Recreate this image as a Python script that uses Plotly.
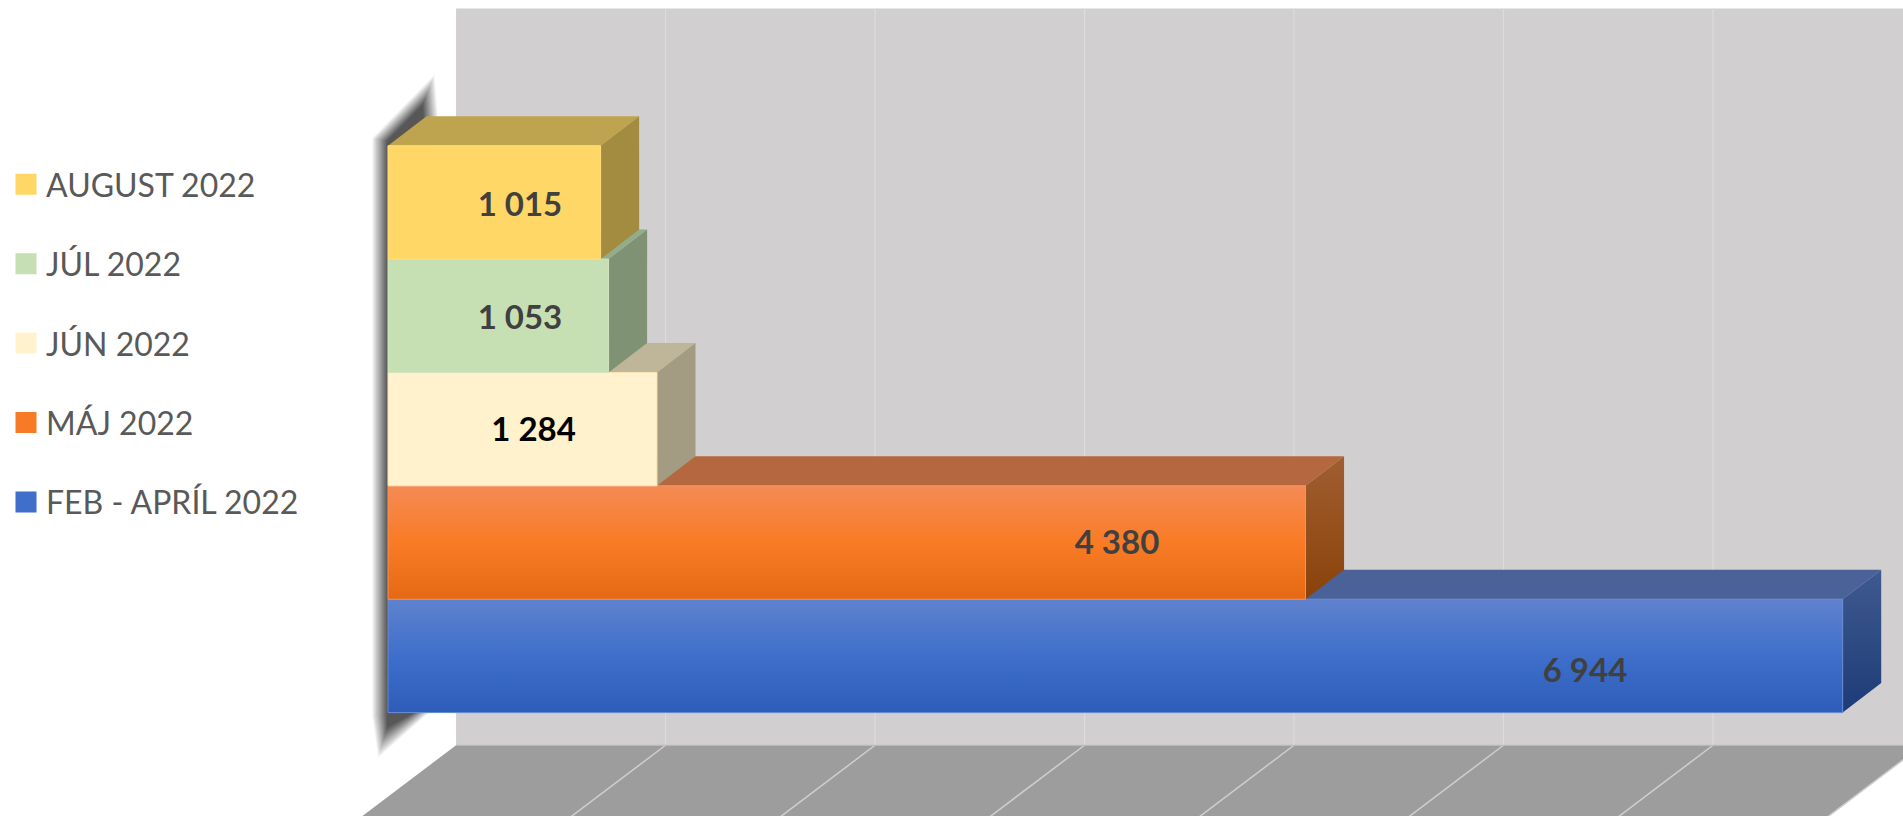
import plotly.graph_objects as go

# ---------- data (bottom of the stack first) ----------
series = ["FEB - APRÍL 2022", "MÁJ 2022", "JÚN 2022", "JÚL 2022", "AUGUST 2022"]
values = [6944, 4380, 1284, 1053, 1015]
grid_values = [0, 1000, 2000, 3000, 4000, 5000, 6000, 7000]
label_x = [5714, 3480, 695, 630, 630]
label_dy = [-0.16, -0.03, -0.03, -0.04, -0.045]

# ---------- styles ----------
front = ["#3F6FCB", "#F77A26", "#FFF2CC", "#C6E0B4", "#FFD766"]
front_edge = ["#6A8BD2", "#F4935F", "#FBE3B4", "#CFE5BF", "#FFDC7A"]
top_col = ["#4A6298", "#B5673F", "#BFB69A", "#94AD89", "#BFA44F"]
side_col = ["#2F4C86", "#96501C", "#A39B82", "#7F9374", "#A38C40"]
label_col = ["#404040", "#404040", "#000000", "#404040", "#404040"]
front_grad = {
    0: [[0, "#2D5DB8"], [0.45, "#3C6DCA"], [1, "#5F82CE"]],
    1: [[0, "#E56914"], [0.5, "#F97B25"], [1, "#F48B55"]],
}
side_grad = {
    0: [[0, "#1D3B78"], [1, "#3F5A8F"]],
    1: [[0, "#8A4209"], [1, "#A05E32"]],
}
WALL, FLOOR, GRID, FLOOR_GRID = "#D1CFCF", "#9D9D9D", "#DDDBDB", "#CFCFCF"
FONT = "Lato"

# depth and geometry, in axis units
DX, DY = 184, 0.26            # bar depth
WX, FY = 325, -0.788          # wall offset, floor level
WALL_TOP = 5.71
XR = [-1852, 7232]
YR = [-1.412, 5.785]
SL = 94 / 0.2095 / (71 / 113.33)   # floor slope (x units per y unit)

fig = go.Figure()
shapes = []


def poly(pts):
    return "M " + " L ".join(f"{x},{y}" for x, y in pts) + " Z"


def add_shape(pts, fill, line=None):
    shapes.append(dict(type="path", path=poly(pts), xref="x", yref="y", layer="below",
                       fillcolor=fill, line=dict(width=0) if not line else dict(width=1, color=line)))


# wall and floor
add_shape([(WX, WALL_TOP), (XR[1] + 200, WALL_TOP), (XR[1] + 200, FY), (WX, FY)], WALL)
drop = 1.0
add_shape([(WX, FY), (grid_values[-1] + WX, FY),
           (grid_values[-1] + WX - SL * drop, FY - drop), (WX - SL * drop, FY - drop)], FLOOR)
for g in grid_values[1:]:
    shapes.append(dict(type="line", xref="x", yref="y", layer="below", x0=g + WX, x1=g + WX,
                       y0=FY, y1=WALL_TOP, line=dict(color=GRID, width=1.2)))
    shapes.append(dict(type="line", xref="x", yref="y", layer="below", x0=g + WX, x1=g + WX - SL * drop,
                       y0=FY, y1=FY - drop, line=dict(color=FLOOR_GRID, width=1.5)))
shapes.append(dict(type="line", xref="x", yref="y", layer="below", x0=WX, x1=XR[1] + 200,
                   y0=FY, y1=FY, line=dict(color="#BDBCBD", width=1)))

# blurred shadow of the side wall, left of the stack: layers add up to a linear ramp
STACK_TOP, STACK_BOTTOM = len(values) - 0.5, -0.5
LAYERS = 28
PEAK = 0.78
prev = 0.0
for k in range(1, LAYERS + 1):
    target = PEAK * k / LAYERS
    alpha = (target - prev) / (1 - prev)
    prev = target
    e = 1 - (k - 1) / (LAYERS - 1)    # 1 = widest, faintest layer
    ex, ey = 72 * e, 0.27 * e
    add_shape([
        (-4 - ex, STACK_TOP + 0.04 + ey * 0.1),
        (165 + ex * 0.8, STACK_TOP + 0.36 + ey),
        (172 + ex, STACK_TOP + 0.16),
        (180 + ex, STACK_TOP),
        (0, STACK_TOP - 0.1),
        (0, STACK_BOTTOM),
        (125 + ex, STACK_BOTTOM),
        (-4 - ex * 0.6, STACK_BOTTOM - 0.13 - ey),
        (-4 - ex, STACK_BOTTOM - 0.03),
    ], f"rgba(45,45,45,{alpha:.4f})")

# real bars (front faces)
for i, (name, v) in enumerate(zip(series, values)):
    fig.add_trace(go.Bar(x=[v], y=[i], orientation="h", width=1, base=0, name=name,
                         marker=dict(color=front[i], line=dict(width=0)),
                         showlegend=False, legendgroup=name, hoverinfo="skip"))

# 3-D faces, lowest bar first so that upper bars sit on top of it
for i, v in enumerate(values):
    lo, hi = i - 0.5, i + 0.5
    # top face
    fig.add_trace(go.Scatter(x=[0, v, v + DX, DX, 0], y=[hi, hi, hi + DY, hi + DY, hi],
                             mode="lines", fill="toself", fillcolor=top_col[i], line=dict(width=0),
                             showlegend=False, hoverinfo="skip"))
    # side face
    side = dict(x=[v, v + DX, v + DX, v, v], y=[hi, hi + DY, lo + DY, lo, hi], mode="lines", fill="toself",
                line=dict(width=0), showlegend=False, hoverinfo="skip")
    if i in side_grad:
        side["fillgradient"] = dict(type="vertical", colorscale=side_grad[i], start=lo, stop=hi + DY)
    else:
        side["fillcolor"] = side_col[i]
    fig.add_trace(go.Scatter(**side))
    # front face
    face = dict(x=[0, v, v, 0, 0], y=[lo, lo, hi, hi, lo], mode="lines", fill="toself",
                line=dict(width=1, color=front_edge[i]), showlegend=False, hoverinfo="skip")
    if i in front_grad:
        face["fillgradient"] = dict(type="vertical", colorscale=front_grad[i], start=lo, stop=hi)
    else:
        face["fillcolor"] = front[i]
    fig.add_trace(go.Scatter(**face))

# value labels
for i, v in enumerate(values):
    fig.add_trace(go.Scatter(x=[label_x[i]], y=[i + label_dy[i]], mode="text",
                             text=[f"{v:,}".replace(",", " ")], textposition="middle center",
                             textfont=dict(family=FONT, size=33, color=label_col[i], weight="bold"),
                             showlegend=False, hoverinfo="skip"))

# legend entries, top of the stack first
for i in reversed(range(len(series))):
    m = dict(symbol="square", size=16, color=front[i], line=dict(width=5, color=front[i]))
    fig.add_trace(go.Scatter(x=[None], y=[None], mode="markers", name=series[i], marker=m,
                             legendgroup=series[i], showlegend=True))

fig.update_layout(
    width=1903, height=816, autosize=False,
    margin=dict(l=0, r=0, t=0, b=0, pad=0),
    paper_bgcolor="white", plot_bgcolor="white",
    barmode="overlay", shapes=shapes,
    xaxis=dict(range=XR, visible=False, fixedrange=True),
    yaxis=dict(range=YR, visible=False, fixedrange=True),
    legend=dict(x=6 / 1903, y=1 - 157 / 816, xanchor="left", yanchor="top", tracegroupgap=34.8,
                font=dict(family=FONT, size=32, color="#595959"), bgcolor="rgba(0,0,0,0)",
                itemclick=False, itemdoubleclick=False),
    showlegend=True,
)

fig.write_html("out.html", config={"displayModeBar": False},
               post_script="document.documentElement.style.overflow='hidden';document.body.style.margin='0';")
